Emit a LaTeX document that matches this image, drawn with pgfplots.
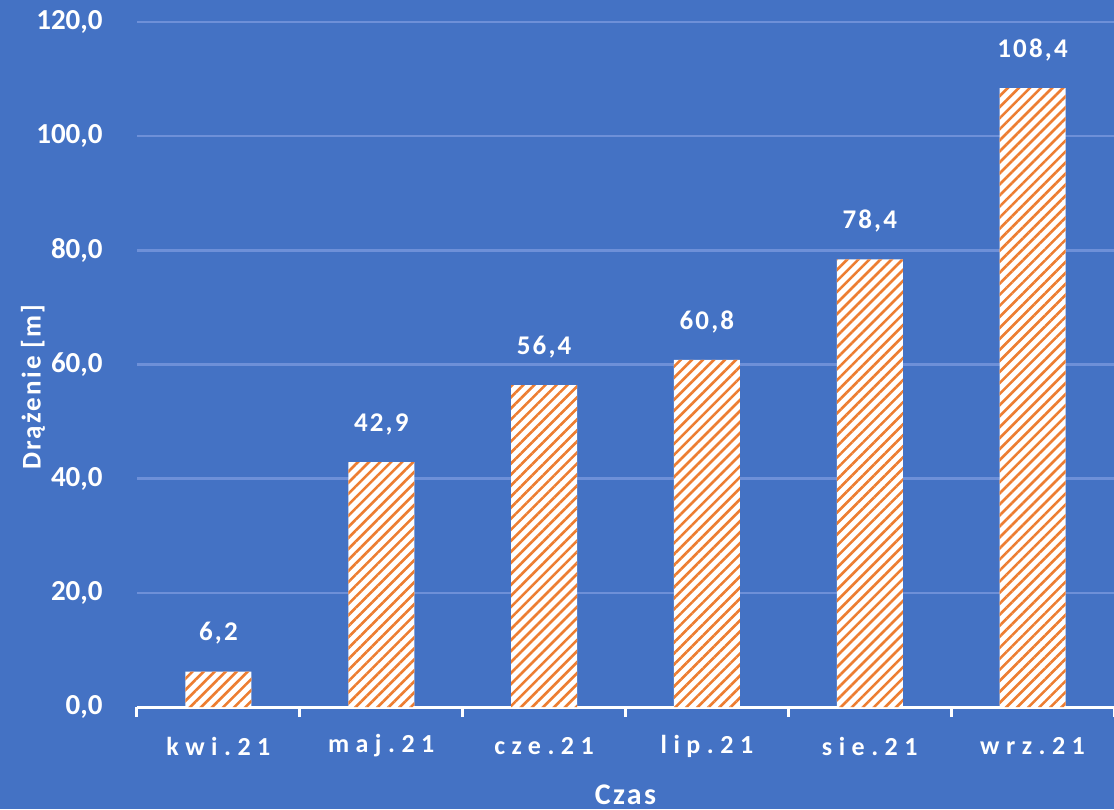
\documentclass[border=0pt]{standalone}
\usepackage{pgfplots}
\pgfplotsset{compat=1.18}
\usetikzlibrary{patterns.meta}
\usepackage{fontspec}
\setmainfont{Carlito}
\newfontfamily\wide[LetterSpace=25]{Carlito}
\newfontfamily\semi[LetterSpace=8]{Carlito}
\definecolor{bgblue}{HTML}{4472C4}
\definecolor{gridblue}{HTML}{6E90D8}
\definecolor{stripe}{HTML}{ED7D31}

\begin{document}
\begin{tikzpicture}
% page background, 1 px = 0.5pt
\fill[bgblue] (0pt,0pt) rectangle (557pt,404.5pt);
\begin{axis}[
  at={(68.5pt,51pt)}, anchor=south west,
  scale only axis, width=488.5pt, height=342.5pt,
  ybar, bar width=33pt,
  xmin=-0.5, xmax=5.5, ymin=0, ymax=120,
  ytick={0,20,...,120},
  xtick={0,...,5},
  xticklabels={kwi.21,maj.21,cze.21,lip.21,sie.21,wrz.21},
  minor xtick={-0.5,0.5,...,5.5},
  axis x line*=bottom, axis y line*=left,
  y axis line style={draw=none},
  x axis line style={white, line width=1.5pt},
  major tick length=0pt, minor tick length=5pt, tick align=outside,
  minor tick style={white, line width=1.5pt},
  ymajorgrids, major grid style={gridblue, line width=1.3pt},
  /pgf/number format/.cd, fixed, fixed zerofill, precision=1, use comma, assume math mode=true,
  /pgfplots/.cd,
  yticklabel style={white, font=\bfseries\fontsize{14.5}{16}\selectfont, anchor=east, inner sep=0pt, xshift=-17pt},
  xticklabel style={white, font=\wide\bfseries\fontsize{13}{15}\selectfont, anchor=center, yshift=-19.5pt},
  nodes near coords,
  every node near coord/.append style={white, font=\semi\bfseries\fontsize{13.5}{15}\selectfont, anchor=center, yshift=19pt},
  ylabel={Drążenie [m]},
  ylabel style={white, font=\semi\bfseries\fontsize{13.5}{15}\selectfont, at={(axis description cs:-0.1064,0.467)}, anchor=center},
  xlabel={Czas},
  xlabel style={white, font=\semi\bfseries\fontsize{15}{17}\selectfont, at={(axis description cs:0.5,-0.128)}, anchor=center},
]
\addplot[draw=none, fill=white, postaction={pattern={Lines[angle=45, distance=3.9pt, line width=1.3pt]}, pattern color=stripe}]
  coordinates {(0,6.2) (1,42.9) (2,56.4) (3,60.8) (4,78.4) (5,108.4)};
\end{axis}
\pgfresetboundingbox
\path (0pt,0pt) rectangle (557pt,404.5pt);
\end{tikzpicture}
\end{document}
